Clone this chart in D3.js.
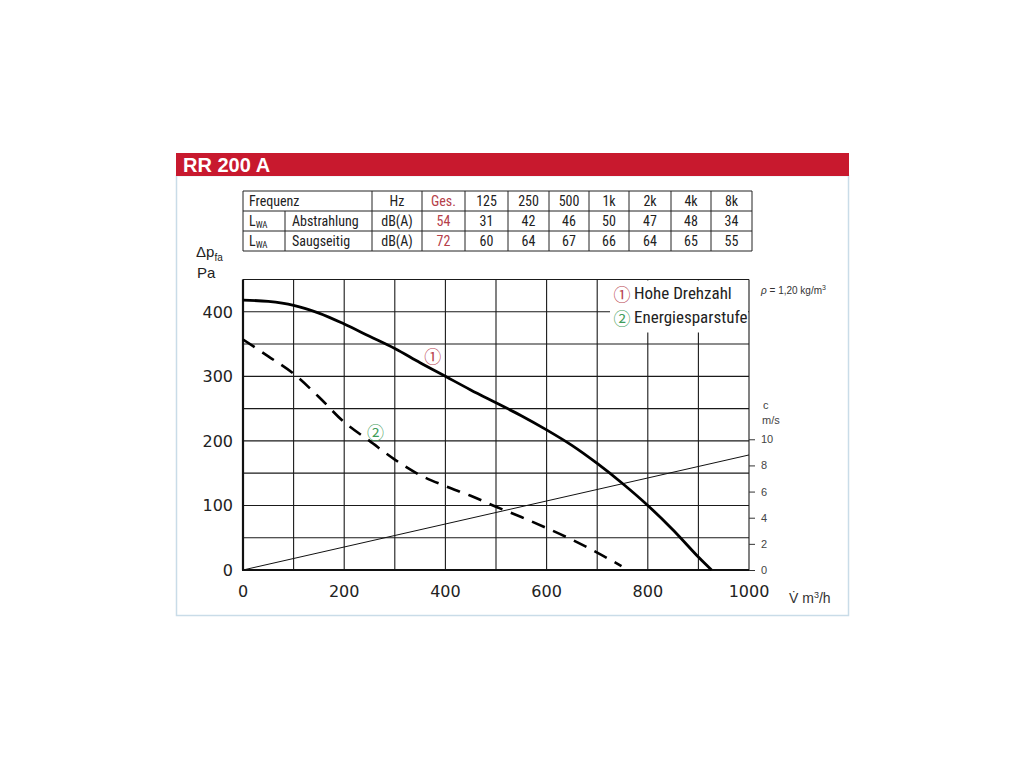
<!DOCTYPE html>
<html>
<head>
<meta charset="utf-8">
<script src="https://cdn.jsdelivr.net/npm/d3@7"></script>
<style>
  html, body { margin: 0; padding: 0; background: #fff; }
  svg { display: block; }
</style>
</head>
<body>
<div id="chart"></div>
<script>
// sound table
var freqHeader = ["Hz", "Ges.", "125", "250", "500", "1k", "2k", "4k", "8k"];
var rowAbstrahlung = ["dB(A)", "54", "31", "42", "46", "50", "47", "48", "34"];
var rowSaugseitig = ["dB(A)", "72", "60", "64", "67", "66", "64", "65", "55"];

// curve 1: Hohe Drehzahl (m3/h, Pa)
var flowHigh = [0, 50, 100, 150, 200, 250, 300, 350, 400, 450, 500, 550, 600, 650, 700, 750, 800, 850, 900, 926];
var pressHigh = [418, 416, 410, 398, 381, 362, 343, 321, 300, 279, 259, 239, 217, 193, 165, 134, 100, 62, 20, 0];

// curve 2: Energiesparstufe
var flowLow = [0, 50, 100, 150, 200, 250, 300, 350, 400, 450, 500, 550, 600, 650, 700, 748];
var pressLow = [357, 331, 304, 268, 229, 200, 171, 147, 130, 115, 98, 82, 65, 47, 27, 6];

// duct velocity line (m3/h, m/s)
var velFlow = [0, 1000];
var velSpeed = [0, 8.8];

var xTicks = [0, 200, 400, 600, 800, 1000];
var yTicks = [0, 100, 200, 300, 400];
var vTicks = [0, 2, 4, 6, 8, 10];

var W = 1024, H = 768;
var svg = d3.select("#chart").append("svg")
    .attr("width", W).attr("height", H);

var pLeft = 243, pRight = 749, pTop = 279.5, pBottom = 570;

var x = d3.scaleLinear().domain([0, 1000]).range([pLeft, pRight]);
var y = d3.scaleLinear().domain([0, 450]).range([pBottom, pTop]);
var v = d3.scaleLinear().domain([0, 10]).range([pBottom, y(202.5)]);

var narrow = "'Liberation Sans Narrow', 'Roboto Condensed', sans-serif";
var sans = "'DejaVu Sans', sans-serif";
var helv = "'Liberation Sans', Arial, sans-serif";
var circ = "'Noto Sans CJK JP', 'DejaVu Sans', sans-serif";

// panel frame and title bar
svg.append("rect")
    .attr("x", 176.5).attr("y", 175.5).attr("width", 672).attr("height", 440)
    .attr("fill", "none").attr("stroke", "#c9dce8").attr("stroke-width", 1.5);
svg.append("rect")
    .attr("x", 176).attr("y", 153).attr("width", 673).attr("height", 23)
    .attr("fill", "#c8192e");
svg.append("text")
    .attr("x", 183).attr("y", 172)
    .style("font-family", helv).style("font-size", "20px").style("font-weight", "bold")
    .attr("fill", "#fff")
    .text("RR 200 A");

// table
var colEdges = [243, 372, 422, 465, 508, 549, 589, 629, 671, 711, 752];
var rowEdges = [191, 211, 231, 251];
var tbl = svg.append("g").attr("stroke", "#222").attr("stroke-width", 1);
rowEdges.forEach(function(r) {
    tbl.append("line").attr("x1", colEdges[0]).attr("x2", colEdges[colEdges.length - 1])
        .attr("y1", r).attr("y2", r);
});
colEdges.forEach(function(c) {
    tbl.append("line").attr("x1", c).attr("x2", c)
        .attr("y1", rowEdges[0]).attr("y2", rowEdges[3]);
});
tbl.append("line").attr("x1", 285).attr("x2", 285).attr("y1", rowEdges[1]).attr("y2", rowEdges[3]);

var tText = svg.append("g").style("font-family", narrow).style("font-size", "14px").attr("fill", "#222");
tText.append("text").attr("x", 249).attr("y", 206).text("Frequenz");
[["Abstrahlung", 226], ["Saugseitig", 246]].forEach(function(r) {
    var t = tText.append("text").attr("x", 249).attr("y", r[1]);
    t.append("tspan").text("L");
    t.append("tspan").attr("dy", 2).style("font-size", "9px").text("WA");
    tText.append("text").attr("x", 292).attr("y", r[1]).text(r[0]);
});
[freqHeader, rowAbstrahlung, rowSaugseitig].forEach(function(row, ri) {
    row.forEach(function(val, ci) {
        tText.append("text")
            .attr("x", (colEdges[ci + 1] + colEdges[ci + 2]) / 2)
            .attr("y", 206 + ri * 20)
            .attr("text-anchor", "middle")
            .attr("fill", ci === 1 ? "#b5404a" : "#222")
            .text(val);
    });
});

// grid
var grid = svg.append("g").attr("stroke", "#1a1a1a").attr("stroke-width", 1.1);
d3.range(0, 1001, 100).forEach(function(d) {
    grid.append("line").attr("x1", x(d)).attr("x2", x(d)).attr("y1", y(0)).attr("y2", y(450));
});
d3.range(0, 451, 50).forEach(function(d) {
    grid.append("line").attr("x1", x(0)).attr("x2", x(1000)).attr("y1", y(d)).attr("y2", y(d));
});
svg.append("line").attr("x1", x(0)).attr("x2", x(0)).attr("y1", y(0)).attr("y2", y(450))
    .attr("stroke", "#111").attr("stroke-width", 2.2);
svg.append("line").attr("x1", x(0) - 1).attr("x2", x(1000)).attr("y1", y(0)).attr("y2", y(0))
    .attr("stroke", "#111").attr("stroke-width", 2);

// left axis labels
svg.append("g").selectAll("text").data(yTicks).enter().append("text")
    .attr("x", 233).attr("y", function(d) { return y(d) + 6; })
    .attr("text-anchor", "end")
    .style("font-family", sans).style("font-size", "16px").attr("fill", "#222")
    .text(function(d) { return d; });

// bottom axis labels
svg.append("g").selectAll("text").data(xTicks).enter().append("text")
    .attr("x", function(d) { return x(d); }).attr("y", 597)
    .attr("text-anchor", "middle")
    .style("font-family", sans).style("font-size", "16px").attr("fill", "#222")
    .text(function(d) { return d; });

// right velocity axis
var vAxis = svg.append("g")
    .attr("transform", "translate(" + pRight + ",0)")
    .style("color", "#444")
    .call(d3.axisRight(v).tickValues(vTicks).tickSize(6).tickPadding(6));
vAxis.select(".domain").remove();
vAxis.selectAll("line").attr("stroke", "#333");
vAxis.selectAll("text").style("font-family", helv).style("font-size", "11px").style("fill", "#444");
svg.append("text").attr("x", 763).attr("y", 409)
    .style("font-family", helv).style("font-size", "11px").attr("fill", "#444").text("c");
svg.append("text").attr("x", 762).attr("y", 424)
    .style("font-family", helv).style("font-size", "11px").attr("fill", "#444").text("m/s");

// axis titles
var dp = svg.append("text").attr("x", 196).attr("y", 257)
    .style("font-family", helv).style("font-size", "15px").attr("fill", "#222");
dp.append("tspan").text("Δp");
dp.append("tspan").attr("dy", 4).style("font-size", "10px").text("fa");
svg.append("text").attr("x", 197).attr("y", 278)
    .style("font-family", helv).style("font-size", "15px").attr("fill", "#222").text("Pa");

var vt = svg.append("text").attr("x", 789).attr("y", 603)
    .style("font-family", helv).style("font-size", "14px").attr("fill", "#333");
vt.append("tspan").text("V\u0307 m");
vt.append("tspan").attr("dy", -5).style("font-size", "9px").text("3");
vt.append("tspan").attr("dy", 5).text("/h");

var rho = svg.append("text").attr("x", 761).attr("y", 294)
    .style("font-family", helv).style("font-size", "10px").attr("fill", "#333");
rho.append("tspan").style("font-style", "italic").text("ρ");
rho.append("tspan").text(" = 1,20 kg/m");
rho.append("tspan").attr("dy", -4).style("font-size", "7px").text("3");

// velocity line
var velData = velFlow.map(function(f, i) { return [f, velSpeed[i]]; });
svg.append("path").datum(velData)
    .attr("d", d3.line().x(function(d) { return x(d[0]); }).y(function(d) { return v(d[1]); }))
    .attr("fill", "none").attr("stroke", "#111").attr("stroke-width", 1);

// fan curves
var curveLine = d3.line()
    .x(function(d) { return x(d[0]); })
    .y(function(d) { return y(d[1]); })
    .curve(d3.curveCatmullRom.alpha(0.5));

svg.append("path")
    .datum(flowHigh.map(function(f, i) { return [f, pressHigh[i]]; }))
    .attr("d", curveLine)
    .attr("fill", "none").attr("stroke", "#000").attr("stroke-width", 2.8);

svg.append("path")
    .datum(flowLow.map(function(f, i) { return [f, pressLow[i]]; }))
    .attr("d", curveLine)
    .attr("fill", "none").attr("stroke", "#000").attr("stroke-width", 2.6)
    .attr("stroke-dasharray", "14 9");

// curve markers
svg.append("text").attr("x", x(375)).attr("y", y(333))
    .attr("text-anchor", "middle").attr("dominant-baseline", "central")
    .style("font-family", circ).style("font-size", "17px")
    .attr("fill", "#b8434f").text("①");
svg.append("text").attr("x", x(262)).attr("y", y(215))
    .attr("text-anchor", "middle").attr("dominant-baseline", "central")
    .style("font-family", circ).style("font-size", "17px")
    .attr("fill", "#3f9d5a").text("②");

// legend
svg.append("rect").attr("x", 610).attr("y", pTop + 1).attr("width", pRight - 611).attr("height", 52)
    .attr("fill", "#fff");
var legendItems = [
    { mark: "①", label: "Hohe Drehzahl", color: "#b8434f" },
    { mark: "②", label: "Energiesparstufe", color: "#3f9d5a" }
];
legendItems.forEach(function(d, i) {
    var ly = 299 + i * 24;
    svg.append("text").attr("x", 622).attr("y", ly - 6)
        .attr("text-anchor", "middle").attr("dominant-baseline", "central")
        .style("font-family", circ).style("font-size", "17px")
        .attr("fill", d.color).text(d.mark);
    svg.append("text").attr("x", 634).attr("y", ly)
        .style("font-family", narrow).style("font-size", "17px").attr("fill", "#222")
        .text(d.label);
});
</script>
</body>
</html>
